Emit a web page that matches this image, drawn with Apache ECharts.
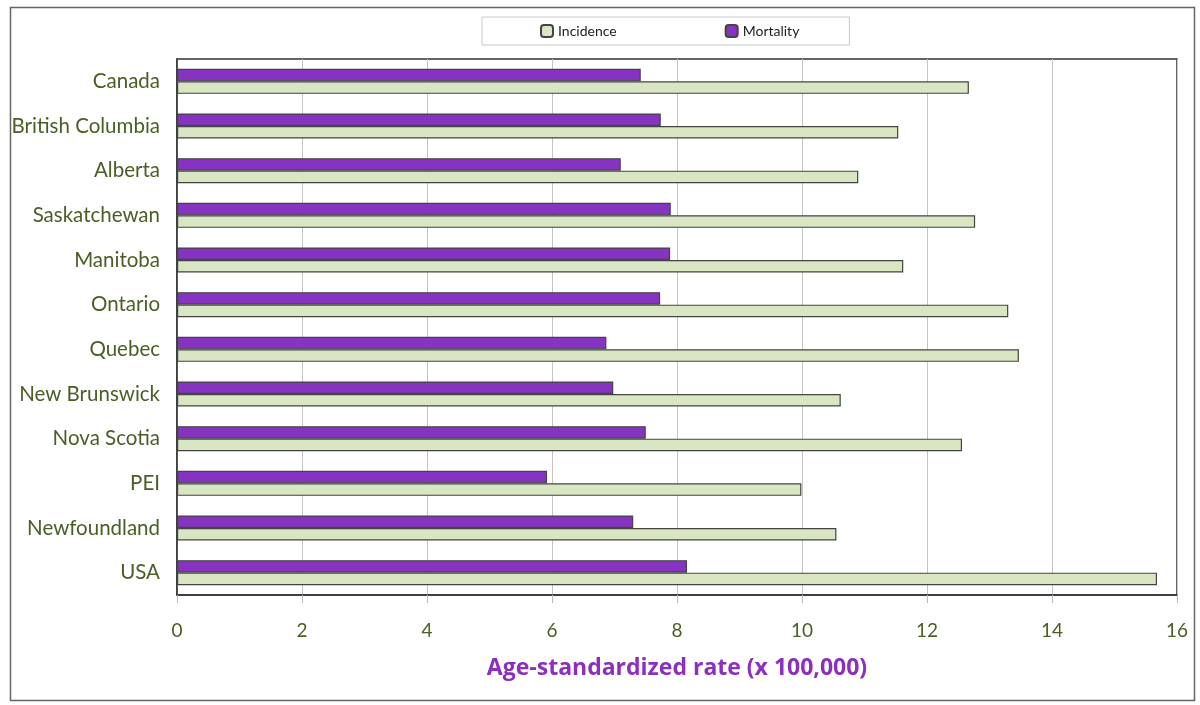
<!DOCTYPE html>
<html>
<head>
<meta charset="utf-8">
<script src="https://cdn.jsdelivr.net/npm/echarts@6/dist/echarts.min.js"></script>
<style>html,body{margin:0;padding:0;background:#fff;}#c{width:1200px;height:705px;}</style>
</head>
<body>
<div id="c"></div>
<script>
const categories = ['Canada','British Columbia','Alberta','Saskatchewan','Manitoba','Ontario','Quebec','New Brunswick','Nova Scotia','PEI','Newfoundland','USA'];
const incidence = [12.67, 11.54, 10.90, 12.77, 11.62, 13.30, 13.47, 10.62, 12.56, 9.99, 10.55, 15.68];
const mortality = [7.42, 7.74, 7.10, 7.90, 7.89, 7.73, 6.87, 6.98, 7.50, 5.92, 7.30, 8.16];
const xTicks = {min: 0, max: 16, interval: 2};

const fontFam = 'Lato, "Open Sans", sans-serif';
const green = '#4b5e26';
const chart = echarts.init(document.getElementById('c'));
chart.setOption({
  animation: false,
  backgroundColor: '#fff',
  graphic: [{
    type: 'rect', left: 8, top: 5, shape: {width: 1184, height: 693},
    style: {fill: 'none', stroke: '#666', lineWidth: 1.5}, silent: true, z: -1
  }],
  legend: {
    left: 482, top: 17,
    padding: [7, 50, 7, 58],
    itemGap: 108,
    itemWidth: 12, itemHeight: 12,
    borderColor: '#c8c8c8', borderWidth: 1,
    textStyle: {fontFamily: fontFam, fontSize: 14, color: '#222'},
    data: ['Incidence', 'Mortality']
  },
  grid: {left: 177, right: 23, top: 59, bottom: 110, show: true, borderColor: '#333', borderWidth: 1.5},
  xAxis: {
    type: 'value', min: xTicks.min, max: xTicks.max, interval: xTicks.interval,
    axisLine: {show: true, lineStyle: {color: '#333', width: 1.5}},
    axisTick: {show: true, length: 8, lineStyle: {color: '#bbb'}},
    splitLine: {show: true, lineStyle: {color: '#c4c4c4', width: 1}},
    axisLabel: {color: green, fontSize: 19, fontFamily: fontFam, margin: 26},
    name: 'Age-standardized rate (x 100,000)',
    nameLocation: 'middle', nameGap: 62,
    nameTextStyle: {color: '#8a2fbf', fontSize: 23, fontWeight: 'bold', fontFamily: '"Open Sans", Lato, sans-serif'}
  },
  yAxis: {
    type: 'category', data: categories, inverse: true,
    axisLine: {show: true, lineStyle: {color: '#333', width: 1.5}},
    axisTick: {show: false},
    axisLabel: {color: green, fontSize: 20.5, fontFamily: fontFam, margin: 17}
  },
  series: [
    {name: 'Mortality', type: 'bar', data: mortality, barWidth: 12.5, barGap: '0%',
     itemStyle: {color: '#8533c0', borderColor: '#444', borderWidth: 1.2}},
    {name: 'Incidence', type: 'bar', data: incidence, barWidth: 12.5, barGap: '0%',
     itemStyle: {color: '#d9e6c4', borderColor: '#444', borderWidth: 1.2}}
  ]
});
</script>
</body>
</html>
